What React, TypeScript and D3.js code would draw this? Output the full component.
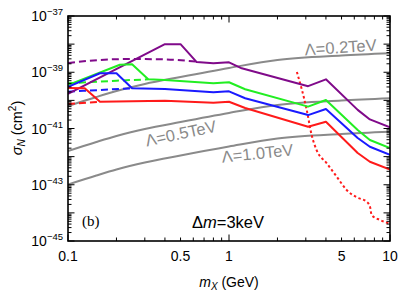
import React from 'react';
import * as d3 from 'd3';

const W = 408, H = 300;
const L = 68, R = 390, T = 16, B = 241;

// tick labels
const xTickLabels = [0.1, 0.5, 1, 5, 10];
const yLabelExps = [-37, -39, -41, -43, -45];

// Lambda reference curves (mass GeV, sigma cm^2)
const lamM = [0.1, 0.15, 0.2, 0.3, 0.5, 1, 2, 5, 10];
const lam02 = [6.31e-41, 1.32e-40, 2.15e-40, 3.82e-40, 6.78e-40, 1.42e-39, 2.73e-39, 3.94e-39, 4.72e-39];
const lam05 = [1.58e-42, 3.31e-42, 5.41e-42, 9.6e-42, 1.7e-41, 3.56e-41, 6.86e-41, 9.9e-41, 1.19e-40];
const lam10 = [1.02e-43, 2.13e-43, 3.48e-43, 6.18e-43, 1.1e-42, 2.29e-42, 4.41e-42, 6.37e-42, 7.63e-42];

// purple
const purpleM = [0.1, 0.40, 0.50, 0.63, 0.80, 1.0, 1.2, 3.1, 4.0, 6.3, 7.5, 10];
const purpleS = [1.7e-40, 1.0e-38, 1.0e-38, 2.3e-39, 2.1e-39, 2.26e-39, 1.38e-39, 3.2e-40, 5.6e-40, 4.6e-41, 2.1e-41, 1.1e-41];
const purpleDashM = [0.1, 0.158, 0.243, 0.40, 0.63];
const purpleDashS = [2.13e-39, 2.73e-39, 2.96e-39, 2.88e-39, 2.37e-39];

// green
const greenM = [0.1, 0.21, 0.25, 0.315, 0.40, 0.80, 1.0, 1.26, 3.1, 4.0, 6.3, 7.5, 10];
const greenS = [3.5e-40, 1.85e-39, 1.92e-39, 5.6e-40, 5.3e-40, 4.05e-40, 4.4e-40, 2.48e-40, 6.0e-41, 1.03e-40, 8.85e-42, 3.9e-42, 2.0e-42];
const greenDashM = [0.1, 0.2, 0.315];
const greenDashS = [4.05e-40, 5.0e-40, 5.6e-40];

// blue
const blueM = [0.1, 0.158, 0.2, 0.25, 0.40, 0.80, 1.0, 1.26, 3.1, 4.0, 6.3, 7.5, 10];
const blueS = [3.06e-40, 9.2e-40, 9.2e-40, 2.68e-40, 2.54e-40, 1.94e-40, 2.1e-40, 1.19e-40, 3.0e-41, 4.93e-41, 4.6e-42, 2.25e-42, 1.15e-42];
const blueDashM = [0.1, 0.158, 0.25];
const blueDashS = [2.04e-40, 2.34e-40, 2.68e-40];

// red
const redM = [0.1, 0.127, 0.158, 0.40, 0.80, 1.0, 1.26, 3.1, 4.0, 6.3, 7.5, 10];
const redS = [2.75e-40, 2.7e-40, 9.0e-41, 9.7e-41, 8.26e-41, 8.97e-41, 5.36e-41, 1.16e-41, 1.75e-41, 1.35e-42, 6.6e-43, 3.5e-43];
const redDashM = [0.1, 0.158];
const redDashS = [7.4e-41, 9.0e-41];
const redDotM = [2.64, 3.04, 3.26, 3.5, 4.05, 4.67, 5.38, 6.21, 7.16, 7.51, 7.69, 8.67, 9.76, 10];
const redDotS = [1.02e-39, 4.55e-41, 5.9e-42, 1.72e-42, 5.8e-43, 1.93e-43, 6.5e-44, 3.58e-44, 2.5e-44, 1.66e-44, 8.4e-45, 5.6e-45, 4.27e-45, 4.0e-45];

const FONT = 'Liberation Sans, Arial, sans-serif';

export default function App() {
  const x = d3.scaleLog().domain([0.1, 10]).range([L, R]);
  const y = d3.scaleLog().domain([1e-45, 1e-37]).range([B, T]);

  const path = (ms: number[], ss: number[], curve: any = d3.curveLinear) =>
    d3.line<number>().x(i => x(ms[i])).y(i => y(ss[i])).curve(curve)(ms.map((_, i) => i)) || '';

  // ticks
  const xMajor = [0.1, 1, 10];
  const xMinor: number[] = [];
  for (const d of [0.1, 1]) for (let k = 2; k <= 9; k++) xMinor.push(d * k);
  const yMajor: number[] = [];
  const yMinor: number[] = [];
  for (let e = -45; e <= -37; e++) {
    yMajor.push(Math.pow(10, e));
    if (e < -37) for (let k = 2; k <= 9; k++) yMinor.push(k * Math.pow(10, e));
  }
  const MJ = 6.5, MN = 3.5;

  const ticks: JSX.Element[] = [];
  xMajor.concat(xMinor).forEach((v, i) => {
    const len = xMajor.includes(v) ? MJ : MN;
    const px = x(v);
    ticks.push(<line key={'xb' + i} x1={px} x2={px} y1={B} y2={B - len} />);
    ticks.push(<line key={'xt' + i} x1={px} x2={px} y1={T} y2={T + len} />);
  });
  yMajor.concat(yMinor).forEach((v, i) => {
    const len = i < yMajor.length ? MJ : MN;
    const py = y(v);
    ticks.push(<line key={'yl' + i} x1={L} x2={L + len} y1={py} y2={py} />);
    ticks.push(<line key={'yr' + i} x1={R} x2={R - len} y1={py} y2={py} />);
  });

  return (
    <svg width={W} height={H} style={{ position: 'absolute', left: 0, top: 0, background: '#fff' }}>
      <defs>
        <clipPath id="plot"><rect x={L} y={T} width={R - L} height={B - T} /></clipPath>
      </defs>
      <g clipPath="url(#plot)" fill="none" strokeLinejoin="round">
        <path d={path(lamM, lam02, d3.curveMonotoneX)} stroke="#8a8a8a" strokeWidth={2} />
        <path d={path(lamM, lam05, d3.curveMonotoneX)} stroke="#8a8a8a" strokeWidth={2} />
        <path d={path(lamM, lam10, d3.curveMonotoneX)} stroke="#8a8a8a" strokeWidth={2} />

        <path d={path(redDotM, redDotS, d3.curveMonotoneX)} stroke="#ff1a1a" strokeWidth={2} strokeDasharray="2.5,2.5" />

        <path d={path(purpleDashM, purpleDashS, d3.curveMonotoneX)} stroke="#800a8a" strokeWidth={2} strokeDasharray="7,4" />
        <path d={path(greenDashM, greenDashS, d3.curveMonotoneX)} stroke="#22ee22" strokeWidth={2} strokeDasharray="7,4" />
        <path d={path(blueDashM, blueDashS, d3.curveMonotoneX)} stroke="#1a1aff" strokeWidth={2} strokeDasharray="7,4" />
        <path d={path(redDashM, redDashS, d3.curveMonotoneX)} stroke="#ff1a1a" strokeWidth={2} strokeDasharray="7,4" />

        <path d={path(purpleM, purpleS)} stroke="#800a8a" strokeWidth={2} />
        <path d={path(greenM, greenS)} stroke="#22ee22" strokeWidth={2} />
        <path d={path(blueM, blueS)} stroke="#1a1aff" strokeWidth={2} />
        <path d={path(redM, redS)} stroke="#ff1a1a" strokeWidth={2} />
      </g>

      {/* Lambda labels */}
      <g fill="#8a8a8a" fontFamily={FONT} fontSize={16.5} textAnchor="middle">
        <text transform={`translate(341,53) rotate(-4)`}>Λ=0.2TeV</text>
        <text transform={`translate(182,139) rotate(-12)`}>Λ=0.5TeV</text>
        <text transform={`translate(258,159) rotate(-6)`}>Λ=1.0TeV</text>
      </g>

      {/* frame and ticks */}
      <g stroke="#000" strokeWidth={1}>{ticks}</g>
      <rect x={L} y={T} width={R - L} height={B - T} fill="none" stroke="#000" strokeWidth={1.6} />

      {/* tick labels */}
      <g fontFamily={FONT} fontSize={14} fill="#000">
        {xTickLabels.map(v => (
          <text key={'xl' + v} x={x(v)} y={261} textAnchor="middle">{String(v)}</text>
        ))}
        {yLabelExps.map(e => (
          <text key={'yl' + e} x={63} y={y(Math.pow(10, e)) + 5} textAnchor="end">
            10<tspan dy={-6} fontSize={9.5}>{'−' + Math.abs(e)}</tspan>
          </text>
        ))}
      </g>

      {/* axis titles */}
      <text x={229} y={287} textAnchor="middle" fontFamily={FONT} fontSize={14}>
        <tspan fontStyle="italic">m</tspan>
        <tspan fontStyle="italic" fontSize={10} dy={3}>X</tspan>
        <tspan dy={-3}>{'  (GeV)'}</tspan>
      </text>
      <text transform="translate(22,128) rotate(-90)" textAnchor="middle" fontFamily={FONT} fontSize={14.5}>
        <tspan fontStyle="italic">σ</tspan>
        <tspan fontStyle="italic" fontSize={10} dy={3}>N</tspan>
        <tspan dy={-3}>{' (cm'}</tspan>
        <tspan fontSize={10} dy={-6}>2</tspan>
        <tspan dy={6}>)</tspan>
      </text>

      {/* annotations */}
      <text x={82} y={226} fontFamily="Liberation Serif, Times New Roman, serif" fontSize={15}>(b)</text>
      <text x={192} y={228} fontFamily={FONT} fontSize={16.5}>
        Δ<tspan fontStyle="italic">m</tspan>=3keV
      </text>
    </svg>
  );
}
